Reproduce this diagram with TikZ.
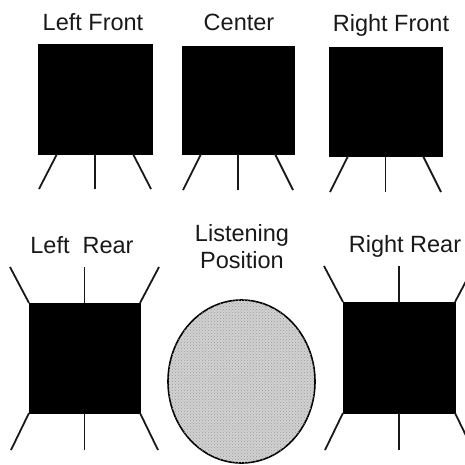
\documentclass[tikz,border=0pt]{standalone}
\usepackage{fontspec}
\setmainfont{Liberation Sans}
\usetikzlibrary{calc,patterns,shapes.geometric}
\begin{document}
\begin{tikzpicture}[x=1pt,y=-1pt,
  spk/.style={fill=black,draw=black,inner sep=0pt,outer sep=0pt},
  leg/.style={line width=1.8pt,draw=black!90},
  mid/.style={line width=1.1pt,draw=black!90},
  lab/.style={anchor=base,font=\fontsize{23.5}{27}\selectfont,text=black!90,inner sep=0pt}]
\useasboundingbox (0,0) rectangle (465,464);
% labels
\node[lab] (tLF) at (93,30) {Left Front};
\node[lab] (tC) at (239,30) {Center};
\node[lab] (tRF) at (391,31) {Right Front};
\node[lab] (tLR) at (82,253) {Left\ \ Rear};
\node[lab] (tL1) at (242,241) {Listening};
\node[lab] (tL2) at (242,268) {Position};
\node[lab] (tRR) at (405,252) {Right Rear};
% front speakers
\node[spk,minimum width=114pt,minimum height=110pt] (LF) at (95,99) {};
\node[spk,minimum width=112pt,minimum height=108pt] (C) at (238,100) {};
\node[spk,minimum width=113pt,minimum height=109pt] (RF) at (385.5,101.5) {};
\foreach \n/\d in {LF/35,C/36,RF/36}{
  \draw[leg] ($(\n.south west)+(19,0)$) -- ++(-18,\d);
  \draw[mid] (\n.south) -- ++(0,\d);
  \draw[leg] ($(\n.south east)+(-19,0)$) -- ++(18,\d);
}
% rear speakers
\node[spk,minimum width=111pt,minimum height=110pt] (LR) at (84.5,358) {};
\node[spk,minimum width=112pt,minimum height=111pt] (RR) at (399,357.5) {};
\foreach \n in {LR,RR}{
  \draw[leg] (\n.north west) -- ++(-19,-36);
  \draw[mid] (\n.north) -- ++(0,-36);
  \draw[leg] (\n.north east) -- ++(19,-36);
  \draw[leg] (\n.south west) -- ++(-18,37);
  \draw[mid] (\n.south) -- ++(0,37);
  \draw[leg] (\n.south east) -- ++(18,37);
}
% listening position
\node[ellipse,draw=black,line width=1.6pt,fill=gray!35,
  postaction={pattern=crosshatch dots,pattern color=gray!80},
  minimum width=147pt,minimum height=163pt,inner sep=0pt] (LP) at (241.5,381.5) {};
\end{tikzpicture}
\end{document}
